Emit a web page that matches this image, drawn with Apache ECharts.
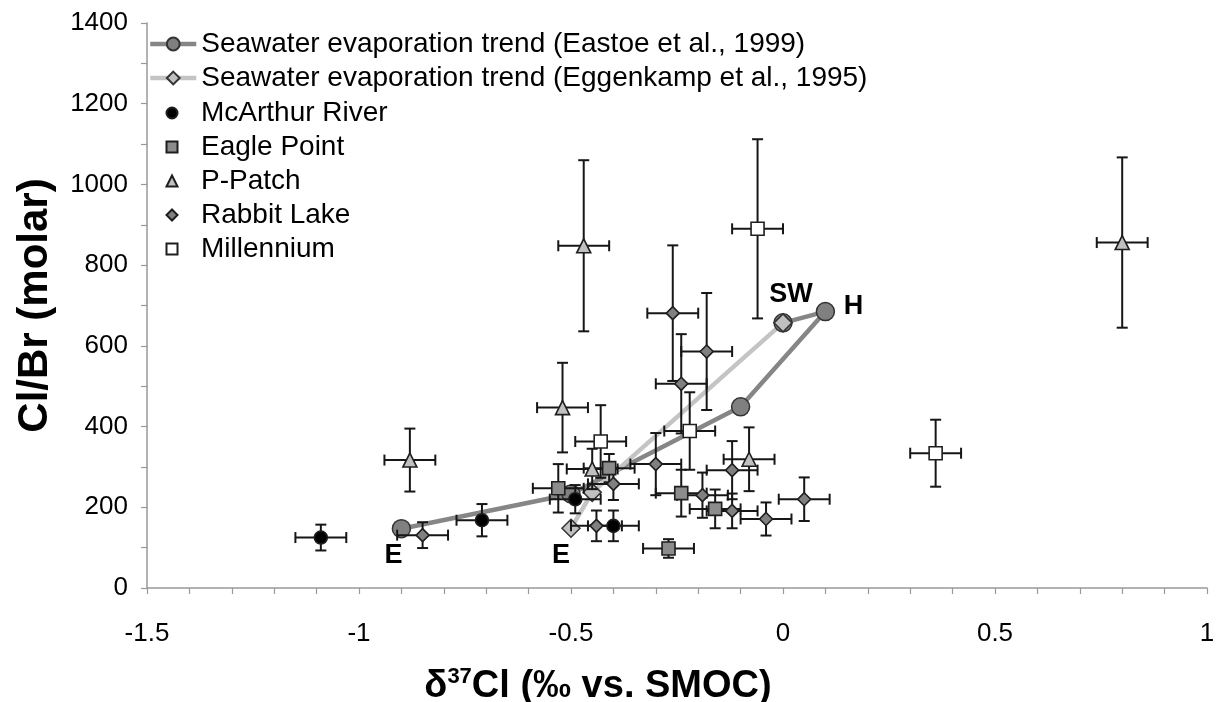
<!DOCTYPE html>
<html>
<head>
<meta charset="utf-8">
<script src="https://cdn.jsdelivr.net/npm/echarts@6/dist/echarts.min.js"></script>
<style>
html,body{margin:0;padding:0;background:#fff;}
#chart{width:1221px;height:702px;}
</style>
</head>
<body>
<div id="chart"></div>
<script>
// ---- data ----
const eastoeName = 'Seawater evaporation trend (Eastoe et al., 1999)';
const eggenkampName = 'Seawater evaporation trend (Eggenkamp et al., 1995)';
const eastoeTrend = [[-0.9,147],[-0.5,233],[-0.1,449],[0.1,685],[0,657]];
const eastoeLabels = ['E','','','H',''];
const eggenkampTrend = [[-0.5,148],[-0.45,237],[0,657]];
const eggenkampLabels = ['E','','SW'];

const mcArthur = [[-1.09,125],[-0.71,168],[-0.49,220],[-0.40,154]];
const mcArthurErrY = [32,40,35,38];
const eaglePoint = [[-0.53,247],[-0.41,297],[-0.24,235],[-0.16,196],[-0.27,98]];
const eaglePointErrY = [60,35,58,48,23];
const pPatch = [[-0.88,317],[-0.47,848],[-0.52,447],[-0.45,295],[-0.08,319],[0.8,856]];
const pPatchErrY = [78,212,111,50,79,211];
const rabbitLake = [[-0.85,131],[-0.44,154],[-0.40,258],[-0.30,307],[-0.26,681],[-0.18,586],[-0.24,506],[-0.19,230],[-0.12,191],[-0.12,292],[-0.04,171],[0.05,220]];
const rabbitLakeErrY = [32,38,40,77,168,145,123,56,43,72,41,54];
const millennium = [[-0.43,363],[-0.22,389],[-0.06,890],[0.36,334]];
const millenniumErrY = [90,96,222,83];
const errX = 0.06;

// ---- styling ----
const FONT = "'Liberation Sans', Arial, sans-serif";
const labelOffsets = { E_eas: [-8,27], H: [28,-5], E_egg: [-10,27], SW: [8,-28] };

function labeledData(pts, labels, key) {
  return pts.map((p, i) => {
    if (!labels[i]) return p;
    let off;
    if (labels[i] === 'E') off = key === 'egg' ? labelOffsets.E_egg : labelOffsets.E_eas;
    else off = labelOffsets[labels[i]];
    return { value: p, label: { show: true, formatter: labels[i], position: 'inside', offset: off,
      color: '#000', fontSize: 27, fontWeight: 'bold', fontFamily: FONT } };
  });
}

function errorBars(name, pts, ey) {
  return {
    type: 'custom', name: name + ' (error)', silent: true, z: 2,
    data: pts.map((p, i) => [p[0], p[1], errX, ey[i]]),
    encode: { x: 0, y: 1 },
    renderItem: function (params, api) {
      const x = api.value(0), y = api.value(1), ex = api.value(2), e = api.value(3);
      const c = api.coord([x, y]);
      const l = api.coord([x - ex, y]), r = api.coord([x + ex, y]);
      const t = api.coord([x, y + e]), b = api.coord([x, y - e]);
      const cap = 5.5;
      const st = { stroke: '#161616', lineWidth: 2, fill: null };
      return { type: 'group', children: [
        { type: 'line', shape: { x1: l[0], y1: c[1], x2: r[0], y2: c[1] }, style: st },
        { type: 'line', shape: { x1: c[0], y1: t[1], x2: c[0], y2: b[1] }, style: st },
        { type: 'line', shape: { x1: l[0], y1: c[1] - cap, x2: l[0], y2: c[1] + cap }, style: st },
        { type: 'line', shape: { x1: r[0], y1: c[1] - cap, x2: r[0], y2: c[1] + cap }, style: st },
        { type: 'line', shape: { x1: c[0] - cap, y1: t[1], x2: c[0] + cap, y2: t[1] }, style: st },
        { type: 'line', shape: { x1: c[0] - cap, y1: b[1], x2: c[0] + cap, y2: b[1] }, style: st }
      ]};
    }
  };
}

function scatter(name, pts, symbol, size, fill) {
  return {
    type: 'scatter', name: name, data: pts, symbol: symbol, symbolSize: size, z: 4,
    itemStyle: { color: fill, borderColor: '#1e1e1e', borderWidth: 1.6, opacity: 1 },
    emphasis: { disabled: true }
  };
}

const axisLabelStyle = { color: '#000', fontSize: 26, fontFamily: FONT };

const option = {
  animation: false,
  textStyle: { fontFamily: FONT },
  grid: { left: 147, right: 14, top: 23, bottom: 114, containLabel: false, outerBoundsMode: 'none' },
  xAxis: {
    type: 'value', min: -1.5, max: 1, interval: 0.5,
    axisLine: { show: true, onZero: false, lineStyle: { color: '#999', width: 1.5 } },
    axisTick: { show: true, inside: false, length: 6, lineStyle: { color: '#999', width: 1.2 } },
    minorTick: { show: true, splitNumber: 5, length: 6, lineStyle: { color: '#999', width: 1.2 } },
    splitLine: { show: false },
    axisLabel: Object.assign({ margin: 33, formatter: v => String(v) }, axisLabelStyle),
    name: '{a|δ}{s|37}{a|Cl (‰ vs. SMOC)}',
    nameLocation: 'middle', nameGap: 78,
    nameTextStyle: {
      padding: [0, 158, 0, 0],
      rich: {
        a: { fontSize: 38, fontWeight: 'bold', color: '#000', fontFamily: FONT, lineHeight: 42 },
        s: { fontSize: 22, fontWeight: 'bold', color: '#000', fontFamily: FONT, lineHeight: 26, verticalAlign: 'top' }
      }
    }
  },
  yAxis: {
    type: 'value', min: 0, max: 1400, interval: 200,
    axisLine: { show: true, onZero: false, lineStyle: { color: '#999', width: 1.5 } },
    axisTick: { show: true, inside: false, length: 6, lineStyle: { color: '#999', width: 1.2 } },
    minorTick: { show: true, splitNumber: 2, length: 6, lineStyle: { color: '#999', width: 1.2 } },
    splitLine: { show: false },
    axisLabel: Object.assign({ margin: 19, formatter: v => String(v) }, axisLabelStyle),
    name: 'Cl/Br (molar)', nameLocation: 'middle', nameGap: 91,
    nameTextStyle: { fontSize: 42, fontWeight: 'bold', color: '#000', fontFamily: FONT }
  },
  legend: [
    {
      data: [eastoeName, eggenkampName], orient: 'vertical', left: 143, top: 25,
      itemWidth: 46, itemHeight: 16, itemGap: 6, selectedMode: false,
      lineStyle: { width: 4.5 },
      textStyle: { fontSize: 28, color: '#000', fontFamily: FONT }
    },
    {
      data: ['McArthur River', 'Eagle Point', 'P-Patch', 'Rabbit Lake', 'Millennium'],
      orient: 'vertical', left: 160.5, top: 94,
      itemWidth: 11, itemHeight: 11, itemGap: 6, selectedMode: false,
      textStyle: { fontSize: 28, color: '#000', fontFamily: FONT, padding: [0, 0, 0, 18.5] }
    }
  ],
  series: [
    {
      type: 'line', name: eastoeName, data: labeledData(eastoeTrend, eastoeLabels, 'eas'), z: 1,
      symbol: 'circle', symbolSize: 18,
      lineStyle: { color: '#868686', width: 4.5 },
      itemStyle: { color: '#808080', borderColor: '#333', borderWidth: 1.5 },
      emphasis: { disabled: true }
    },
    {
      type: 'line', name: eggenkampName, data: labeledData(eggenkampTrend, eggenkampLabels, 'egg'), z: 1,
      symbol: 'diamond', symbolSize: 18,
      lineStyle: { color: '#c4c4c4', width: 4.5 },
      itemStyle: { color: '#c0c0c0', borderColor: '#333', borderWidth: 1.5 },
      emphasis: { disabled: true }
    },
    errorBars('McArthur River', mcArthur, mcArthurErrY),
    errorBars('Eagle Point', eaglePoint, eaglePointErrY),
    errorBars('P-Patch', pPatch, pPatchErrY),
    errorBars('Rabbit Lake', rabbitLake, rabbitLakeErrY),
    errorBars('Millennium', millennium, millenniumErrY),
    scatter('McArthur River', mcArthur, 'circle', 13, '#000'),
    scatter('Eagle Point', eaglePoint, 'rect', 13, '#8c8c8c'),
    scatter('P-Patch', pPatch, 'triangle', 14, '#c0c0c0'),
    scatter('Rabbit Lake', rabbitLake, 'diamond', 13, '#808080'),
    scatter('Millennium', millennium, 'rect', 13, '#ffffff')
  ]
};

const chart = echarts.init(document.getElementById('chart'), null, { renderer: 'canvas' });
chart.setOption(option);
</script>
</body>
</html>
